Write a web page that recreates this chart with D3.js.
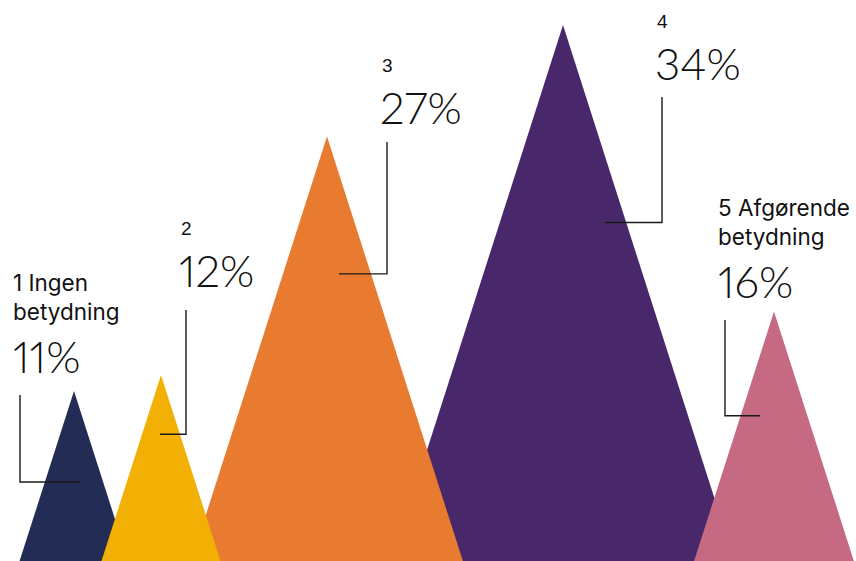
<!DOCTYPE html>
<html lang="da">
<head>
  <meta charset="UTF-8">
  <title>Betydning</title>
  <script src="https://d3js.org/d3.v7.min.js"></script>
  <style>
    body { margin: 0; background: #fff; }
  </style>
</head>
<body>
  <svg id="chart" width="856" height="561"></svg>

  <script>
    // data
    const categories = ["1", "2", "3", "4", "5"];
    const labels = [["1 Ingen", "betydning"], ["2"], ["3"], ["4"], ["5 Afgørende", "betydning"]];
    const values = [11, 12, 27, 34, 16];
    const colors = ["#232c55", "#f2b005", "#e87b30", "#48286a", "#c66a84"];

    // layout
    const slope = 0.32; // half width per unit height

    const svg = d3.select("#chart");

    const x = d3.scaleOrdinal()
      .domain(categories)
      .range([74, 161, 327, 563, 774]);

    const y = d3.scaleLinear()
      .domain([0, 34])
      .range([566, 25]);

    // which triangles sit on top of which
    const zOrder = [3, 2, 0, 1, 4];

    // annotation: vertical x, top of vertical, baseline of percent, end offset from apex, end height as share of value
    const annot = [
      { vx: 20, top: 395, pct: 373, dx: 6, frac: 0.48 },
      { vx: 186, top: 310, pct: 287, dx: -1, frac: 0.69 },
      { vx: 387, top: 142, pct: 124, dx: 12, frac: 0.68 },
      { vx: 662, top: 97, pct: 80, dx: 42, frac: 0.635 },
      { vx: 725, top: 320, pct: 298, dx: -14, frac: 0.59 }
    ];

    function triangle(i) {
      const cx = x(categories[i]);
      const top = y(values[i]);
      const base = y(0);
      const hw = (base - top) * slope;
      return `M${cx - hw},${base}L${cx},${top}L${cx + hw},${base}Z`;
    }

    svg.append("g")
      .selectAll("path")
      .data(zOrder)
      .join("path")
      .attr("d", d => triangle(d))
      .attr("fill", d => colors[d]);

    const g = svg.append("g");

    categories.forEach((c, i) => {
      const a = annot[i];
      const ex = x(c) + a.dx;
      const ey = y(values[i] * a.frac);

      g.append("path")
        .attr("d", `M${a.vx},${a.top}V${ey}H${ex}`)
        .attr("fill", "none")
        .attr("stroke", "#1a1a1a")
        .attr("stroke-width", 1.4);

      const tx = a.vx - 7;
      const lines = labels[i];
      const wordy = lines.length > 1;

      g.append("text")
        .attr("x", tx)
        .attr("y", a.pct)
        .attr("font-family", "Lato, sans-serif")
        .attr("font-weight", 300)
        .attr("font-size", "44px")
        .style("font-variant-numeric", "proportional-nums")
        .attr("fill", "#111")
        .text(values[i] + "%");

      lines.forEach((t, k) => {
        g.append("text")
          .attr("x", tx + (wordy ? 0 : 2))
          .attr("y", a.pct - (wordy ? 53 : 52) - (lines.length - 1 - k) * 29)
          .attr("font-family", wordy ? "Inter, sans-serif" : "'Liberation Sans', Arial, sans-serif")
          .attr("font-size", wordy ? "22.5px" : "19px")
          .attr("fill", "#111")
          .text(t);
      });
    });
  </script>
</body>
</html>
